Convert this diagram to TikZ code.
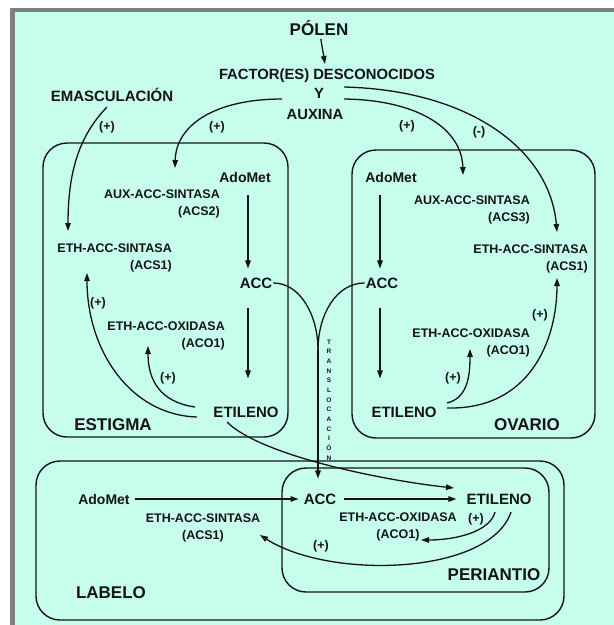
\documentclass[tikz,border=0pt]{standalone}
\usepackage{fontspec}
\setmainfont{Liberation Sans}
\usetikzlibrary{arrows.meta,calc}
\definecolor{mint}{RGB}{199,253,237}
\definecolor{framegray}{RGB}{128,128,128}
\definecolor{ink}{RGB}{20,20,20}
\begin{document}
\begin{tikzpicture}[x=1pt,y=-1pt,
  every node/.style={inner sep=1pt,text=ink},
  organ/.style={draw=ink,line width=1.4pt,rounded corners=24pt},
  big/.style={font=\fontsize{17}{19}\selectfont\bfseries},
  mol/.style={font=\fontsize{15}{17}\selectfont\bfseries},
  ado/.style={font=\fontsize{14}{17}\selectfont\bfseries},
  enz/.style={font=\fontsize{12.5}{17}\selectfont\bfseries,align=right},
  enzc/.style={font=\fontsize{12.5}{17}\selectfont\bfseries,align=center},
  sgn/.style={font=\fontsize{12.5}{14}\selectfont\bfseries},
  head/.style={font=\fontsize{14.8}{17}\selectfont\bfseries},
  link/.style={draw=ink,line width=1.3pt},
  arr/.style={link,-{Triangle[length=8pt,width=5.5pt]}}]

% page, frame and background
\useasboundingbox (0,0) rectangle (614,625);
\fill[white] (0,0) rectangle (614,625);
\fill[framegray] (10,8) rectangle (614,625);
\fill[mint] (15,12) rectangle (614,625);

% organ outlines
\draw[organ] (43,143) rectangle (288,437);
\draw[organ] (352,150) rectangle (595,438);
\draw[organ] (36,461) rectangle (564,620);
\draw[organ] (282,468) rectangle (549,592);

% top: pollen signal
\node[big] (polen) at (319,28) {PÓLEN};
\node[head] (factor) at (327,76) {FACTOR(ES) DESCONOCIDOS};
\node[head] (yconj) at (319,93) {Y};
\node[head] (auxina) at (315,114) {AUXINA};
\node[mol] (emasc) at (112,95) {EMASCULACIÓN};

% estigma
\node[ado] (adoL) at (245,177) {AdoMet};
\node[enz,anchor=east] (acs2) at (221,203.5) {AUX-ACC-SINTASA\\(ACS2)};
\node[enz,anchor=east] (acs1L) at (173,257.5) {ETH-ACC-SINTASA\\(ACS1)};
\node[mol] (accL) at (256,283) {ACC};
\node[enz,anchor=east] (aco1L) at (226,336) {ETH-ACC-OXIDASA\\(ACO1)};
\node[mol] (etiL) at (246,412) {ETILENO};
\node[big] (estigma) at (113,425) {ESTIGMA};

% ovario
\node[ado] (adoR) at (391,177) {AdoMet};
\node[enz,anchor=east] (acs3) at (531,210) {AUX-ACC-SINTASA\\(ACS3)};
\node[enz,anchor=east] (acs1R) at (589,258.5) {ETH-ACC-SINTASA\\(ACS1)};
\node[mol] (accR) at (382,283) {ACC};
\node[enz,anchor=east] (aco1R) at (531,342.5) {ETH-ACC-OXIDASA\\(ACO1)};
\node[mol] (etiR) at (404,412) {ETILENO};
\node[big] (ovario) at (527,425) {OVARIO};

% labelo and periantio
\node[ado] (adoB) at (104,499) {AdoMet};
\node[mol] (accB) at (320,499) {ACC};
\node[mol] (etiB) at (499,499) {ETILENO};
\node[enzc] (acs1B) at (203,527.5) {ETH-ACC-SINTASA\\(ACS1)};
\node[enzc] (aco1B) at (398,527) {ETH-ACC-OXIDASA\\(ACO1)};
\node[big] (labelo) at (111,593) {LABELO};
\node[big] (periantio) at (494,575) {PERIANTIO};

% translocation label, one letter per line
\node[font=\fontsize{6.5}{9.67}\selectfont\bfseries,align=center] (transl) at (329,400)
  {T\\R\\A\\N\\S\\L\\O\\C\\A\\C\\I\\Ó\\N};

% regulation signs
\node[sgn] (s1) at (107,127) {(+)};
\node[sgn] (s2) at (217,127) {(+)};
\node[sgn] (s3) at (407,126) {(+)};
\node[sgn] (s4) at (479,132) {(-)};
\node[sgn] (s5) at (98,303) {(+)};
\node[sgn] (s6) at (168,378) {(+)};
\node[sgn] (s7) at (453,378) {(+)};
\node[sgn] (s8) at (540,315) {(+)};
\node[sgn] (s9) at (476,519) {(+)};
\node[sgn] (s10) at (321,546) {(+)};

% connector end points
\coordinate (emStart) at (107,107);
\coordinate (emTip) at (68,231);
\coordinate (auxL) at (282,99);
\coordinate (acs2Tip) at (175,168);
\coordinate (auxR) at (344,99);
\coordinate (acs3Tip) at (463,175);
\coordinate (facR) at (344,87);
\coordinate (acs1RTop) at (557,232);
\coordinate (eLa) at (197,417);
\coordinate (acs1LTip) at (87,273);
\coordinate (eLb) at (195,407);
\coordinate (aco1LTip) at (148,346);
\coordinate (eRa) at (447,403);
\coordinate (aco1RTip) at (470,349);
\coordinate (eRb) at (447,408);
\coordinate (acs1RTip) at (557,278);
\coordinate (eLc) at (227,422);
\coordinate (etiBIn) at (454,488);
\coordinate (tmerge) at (318,350);
\coordinate (eBa) at (495,512);
\coordinate (aco1BTip) at (421,540);
\coordinate (eBb) at (511,512);
\coordinate (acs1BTip) at (260,535);

% top connectors
\draw[arr,shorten <=2pt,shorten >=4pt] (polen) -- (factor);
\draw[arr] (emStart) .. controls (80,135) and (68,170) .. (emTip);
\draw[arr] (auxL) .. controls (215,99) and (176,125) .. (acs2Tip);
\draw[arr] (auxR) .. controls (420,100) and (462,130) .. (acs3Tip);
\draw[arr] (facR) .. controls (470,90) and (550,150) .. (acs1RTop);

% estigma pathway
\draw[arr,shorten <=12pt,shorten >=8pt] ([xshift=3pt]adoL.south) -- ([xshift=3pt]adoL.south |- accL.north);
\draw[arr,shorten <=18pt,shorten >=27pt] ([xshift=3pt]adoL.south |- accL.south) -- ([xshift=3pt]adoL.south |- etiL.north);
\draw[arr] (eLa) .. controls (130,415) and (87,350) .. (acs1LTip);
\draw[arr] (eLb) .. controls (160,402) and (148,380) .. (aco1LTip);

% ovario pathway
\draw[arr,shorten <=12pt,shorten >=8pt] ([xshift=-11pt]adoR.south) -- ([xshift=-11pt]adoR.south |- accR.north);
\draw[arr,shorten <=18pt,shorten >=27pt] ([xshift=-11pt]adoR.south |- accR.south) -- ([xshift=-11pt]adoR.south |- etiR.north);
\draw[arr] (eRa) .. controls (468,398) and (470,375) .. (aco1RTip);
\draw[arr] (eRb) .. controls (530,410) and (557,340) .. (acs1RTip);

% translocation of ACC towards the perianth
\draw[link] (accL.east) .. controls (300,283) and (318,315) .. (tmerge);
\draw[link] (accR.west) .. controls (336,283) and (318,315) .. (tmerge);
\draw[arr,shorten >=14pt] (tmerge) -- (tmerge |- accB.north);

% ethylene from the stigma to the perianth
\draw[arr] (eLc) .. controls (260,455) and (380,480) .. (etiBIn);

% labelo / periantio pathway
\draw[arr,shorten <=4pt,shorten >=4pt] (adoB) -- (accB);
\draw[arr,shorten <=7pt,shorten >=9pt] (accB) -- (etiB);
\draw[arr] (eBa) .. controls (490,532) and (455,540) .. (aco1BTip);
\draw[arr] (eBb) .. controls (490,575) and (330,580) .. (acs1BTip);
\end{tikzpicture}
\end{document}
